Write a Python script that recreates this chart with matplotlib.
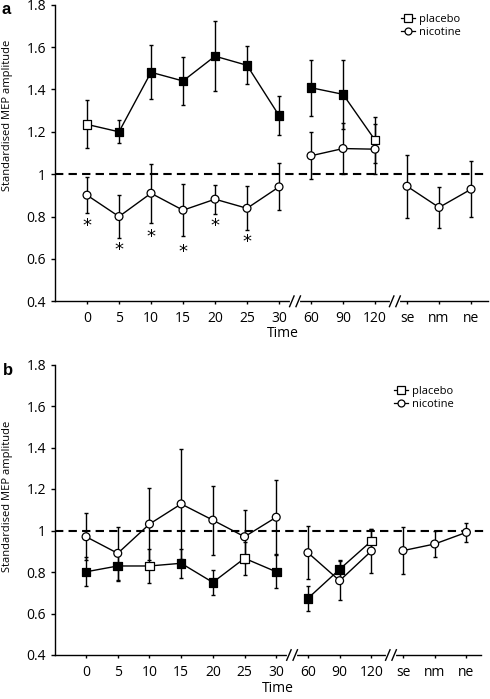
import matplotlib
matplotlib.use("Agg")
import matplotlib.pyplot as plt
import matplotlib.transforms as mtransforms
from matplotlib.lines import Line2D
import numpy as np

plt.rcParams['font.family'] = ['Open Sans', 'DejaVu Sans']

# ---------------- data ----------------
time_labels = ['0', '5', '10', '15', '20', '25', '30', '60', '90', '120', 'se', 'nm', 'ne']
segments = [(0, 7), (7, 10), (10, 13)]

a_placebo = [1.235, 1.200, 1.481, 1.440, 1.557, 1.514, 1.277, 1.408, 1.377, 1.161]
a_placebo_err = [0.113, 0.055, 0.127, 0.115, 0.164, 0.089, 0.093, 0.132, 0.162, 0.110]
a_placebo_filled = [False, True, True, True, True, True, True, True, True, False]
a_nicotine = [0.901, 0.800, 0.910, 0.830, 0.882, 0.839, 0.940, 1.087, 1.121, 1.118, 0.943, 0.843, 0.929]
a_nicotine_err = [0.084, 0.102, 0.139, 0.124, 0.069, 0.103, 0.111, 0.111, 0.121, 0.118, 0.148, 0.096, 0.133]
a_star_labels = ['0', '5', '10', '15', '20', '25']
a_star_y = [0.754, 0.644, 0.705, 0.633, 0.754, 0.679]

b_placebo = [0.801, 0.829, 0.829, 0.842, 0.750, 0.866, 0.801, 0.673, 0.813, 0.949]
b_placebo_err = [0.070, 0.070, 0.080, 0.070, 0.060, 0.080, 0.080, 0.060, 0.045, 0.057]
b_placebo_filled = [True, True, False, True, True, False, True, True, True, False]
b_nicotine = [0.970, 0.890, 1.031, 1.128, 1.050, 0.970, 1.064, 0.893, 0.758, 0.901, 0.903, 0.935, 0.991]
b_nicotine_err = [0.113, 0.127, 0.173, 0.266, 0.166, 0.129, 0.178, 0.127, 0.093, 0.104, 0.114, 0.064, 0.047]

y_ticks = [0.4, 0.6, 0.8, 1.0, 1.2, 1.4, 1.6, 1.8]
y_ticklabels = ['0.4', '0.6', '0.8', '1', '1.2', '1.4', '1.6', '1.8']

W, H = 490, 699
fig = plt.figure(figsize=(W / 100, H / 100), dpi=100)


def px_rect(left, top, right, bottom):
    return [left / W, 1 - bottom / H, (right - left) / W, (bottom - top) / H]


def draw_series(ax, vals, errs, marker, filled, msize):
    x = np.arange(len(vals))
    vals = np.asarray(vals)
    errs = np.asarray(errs)
    for s, e in segments:
        if s >= len(vals):
            continue
        e = min(e, len(vals))
        ax.errorbar(x[s:e], vals[s:e], yerr=errs[s:e], color='black', lw=1.0,
                    elinewidth=1.0, capsize=1.6, capthick=1.0, zorder=3)
    fc = ['black' if f else 'white' for f in filled]
    ax.scatter(x, vals, marker=marker, s=msize, facecolors=fc, edgecolors='black',
               linewidths=0.9, zorder=4)


def break_marks(ax, centers):
    trans = mtransforms.blended_transform_factory(ax.transData, ax.transAxes)
    for c in centers:
        ax.plot([c - 0.1, c + 0.1], [0, 0], color='white', lw=3, transform=trans,
                clip_on=False, zorder=5)
        for d in (-0.1, 0.1):
            ax.plot([c + d - 0.07, c + d + 0.07], [-0.018, 0.018], color='black', lw=1.0,
                    transform=trans, clip_on=False, zorder=6)


def setup(ax, xlim, spine_right):
    ax.set_ylim(0.4, 1.8)
    ax.set_xlim(*xlim)
    ax.spines['top'].set_visible(False)
    ax.spines['right'].set_visible(False)
    ax.spines['left'].set_linewidth(1.0)
    ax.spines['bottom'].set_linewidth(1.0)
    ax.spines['bottom'].set_bounds(xlim[0], spine_right)
    ax.set_yticks(y_ticks)
    ax.set_yticklabels(y_ticklabels)
    ax.set_xticks(np.arange(len(time_labels)))
    ax.set_xticklabels(time_labels)
    ax.tick_params(axis='y', direction='out', length=3, width=1.0, pad=3.5, labelsize=10)
    ax.tick_params(axis='x', direction='out', length=2.5, width=1.0, pad=4.5, labelsize=10)
    ax.axhline(1.0, color='black', lw=1.5, dashes=(4, 2.5), zorder=2)
    ax.patch.set_alpha(0)


def legend(ax, anchor):
    handles = [
        Line2D([], [], color='black', lw=0.9, marker='s', markersize=5.5,
               markerfacecolor='white', markeredgecolor='black', markeredgewidth=0.9),
        Line2D([], [], color='black', lw=0.9, marker='o', markersize=5,
               markerfacecolor='white', markeredgecolor='black', markeredgewidth=0.9),
    ]
    ax.legend(handles, ['placebo', 'nicotine'], loc='upper left', bbox_to_anchor=anchor,
              bbox_transform=fig.transFigure, frameon=False, fontsize=8,
              handlelength=1.3, handletextpad=0.35, labelspacing=0.2, borderpad=0,
              borderaxespad=0)


# ---------------- panel a ----------------
axa = fig.add_axes(px_rect(55, 4.7, 488, 301.3))
setup(axa, (-1.0, 12.53), 12.53)
draw_series(axa, a_placebo, a_placebo_err, 's', a_placebo_filled, 38)
draw_series(axa, a_nicotine, a_nicotine_err, 'o', [False] * len(a_nicotine), 32)
for lab, yv in zip(a_star_labels, a_star_y):
    axa.text(time_labels.index(lab), yv, '*', ha='center', va='center', fontsize=13,
             family=['DejaVu Sans'])
break_marks(axa, [6.5, 9.62])
legend(axa, (401 / W, 1 - 14 / H))
axa.text(0.527, -0.107, 'Time', transform=axa.transAxes, ha='center', va='center', fontsize=10)
fig.text(8 / W, 1 - 115 / H, 'Standardised MEP amplitude', rotation=90, ha='center',
         va='center', fontsize=8)
fig.text(1 / W, 1 - 2 / H, 'a', ha='left', va='top', fontsize=12, fontweight='bold',
         family=['Liberation Sans', 'DejaVu Sans'])

# ---------------- panel b ----------------
axb = fig.add_axes(px_rect(55, 364.5, 487, 655))
setup(axb, (-0.98, 12.65), 12.45)
draw_series(axb, b_placebo, b_placebo_err, 's', b_placebo_filled, 38)
draw_series(axb, b_nicotine, b_nicotine_err, 'o', [False] * len(b_nicotine), 32)
break_marks(axb, [6.5, 9.62])
legend(axb, (394 / W, 1 - 386 / H))
fig.text(278 / W, 1 - 689 / H, 'Time', ha='center', va='center', fontsize=10)
fig.text(8 / W, 1 - 496 / H, 'Standardised MEP amplitude', rotation=90, ha='center',
         va='center', fontsize=8)
fig.text(3 / W, 1 - 363 / H, 'b', ha='left', va='top', fontsize=12, fontweight='bold',
         family=['Liberation Sans', 'DejaVu Sans'])

fig.savefig('out.png', dpi=100)
